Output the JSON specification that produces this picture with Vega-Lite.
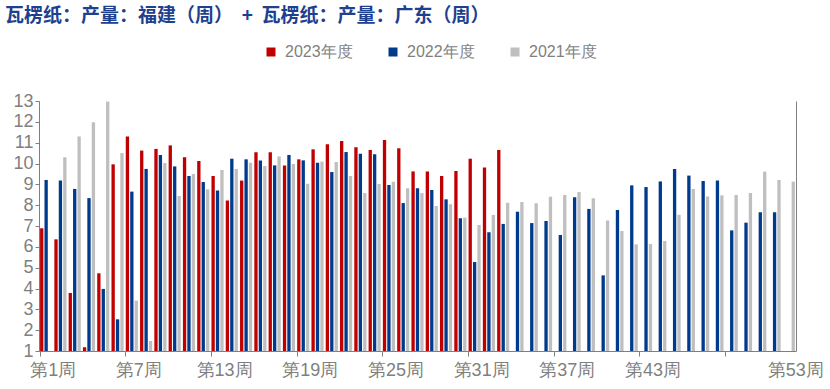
{
  "$schema": "https://vega.github.io/schema/vega-lite/v6.json",
  "width": 757,
  "height": 250,
  "autosize": "none",
  "padding": {"left": 39, "top": 101, "right": 34, "bottom": 38},
  "background": "white",
  "title": {
    "text": "瓦楞纸：产量：福建（周）\u00a0\u00a0+\u00a0\u00a0瓦楞纸：产量：广东（周）",
    "anchor": "start",
    "frame": "group",
    "dx": -34,
    "offset": 18,
    "font": "Noto Sans CJK SC",
    "fontSize": 19,
    "fontWeight": "bold",
    "color": "#1f3f8f"
  },
  "config": {"view": {"stroke": null}},
  "data": {"values": [
    {"w":1,"s":"2023年度","v":6.89},{"w":2,"s":"2023年度","v":6.36},{"w":3,"s":"2023年度","v":3.78},{"w":4,"s":"2023年度","v":1.18},{"w":5,"s":"2023年度","v":4.73},{"w":6,"s":"2023年度","v":9.96},{"w":7,"s":"2023年度","v":11.3},{"w":8,"s":"2023年度","v":10.62},{"w":9,"s":"2023年度","v":10.7},{"w":10,"s":"2023年度","v":10.87},{"w":11,"s":"2023年度","v":10.3},{"w":12,"s":"2023年度","v":10.12},{"w":13,"s":"2023年度","v":9.4},{"w":14,"s":"2023年度","v":8.23},{"w":15,"s":"2023年度","v":9.18},{"w":16,"s":"2023年度","v":10.54},{"w":17,"s":"2023年度","v":10.54},{"w":18,"s":"2023年度","v":9.91},{"w":19,"s":"2023年度","v":10.2},{"w":20,"s":"2023年度","v":10.68},{"w":21,"s":"2023年度","v":10.92},{"w":22,"s":"2023年度","v":11.08},{"w":23,"s":"2023年度","v":10.78},{"w":24,"s":"2023年度","v":10.65},{"w":25,"s":"2023年度","v":11.13},{"w":26,"s":"2023年度","v":10.73},{"w":27,"s":"2023年度","v":9.62},{"w":28,"s":"2023年度","v":9.62},{"w":29,"s":"2023年度","v":9.4},{"w":30,"s":"2023年度","v":9.64},{"w":31,"s":"2023年度","v":10.23},{"w":32,"s":"2023年度","v":9.81},{"w":33,"s":"2023年度","v":10.65},
    {"w":1,"s":"2022年度","v":9.21},{"w":2,"s":"2022年度","v":9.18},{"w":3,"s":"2022年度","v":8.78},{"w":4,"s":"2022年度","v":8.34},{"w":5,"s":"2022年度","v":3.98},{"w":6,"s":"2022年度","v":2.52},{"w":7,"s":"2022年度","v":8.65},{"w":8,"s":"2022年度","v":9.74},{"w":9,"s":"2022年度","v":10.41},{"w":10,"s":"2022年度","v":9.86},{"w":11,"s":"2022年度","v":9.4},{"w":12,"s":"2022年度","v":9.11},{"w":13,"s":"2022年度","v":8.7},{"w":14,"s":"2022年度","v":10.23},{"w":15,"s":"2022年度","v":10.2},{"w":16,"s":"2022年度","v":10.15},{"w":17,"s":"2022年度","v":9.91},{"w":18,"s":"2022年度","v":10.41},{"w":19,"s":"2022年度","v":10.15},{"w":20,"s":"2022年度","v":10.04},{"w":21,"s":"2022年度","v":9.59},{"w":22,"s":"2022年度","v":10.55},{"w":23,"s":"2022年度","v":10.47},{"w":24,"s":"2022年度","v":10.44},{"w":25,"s":"2022年度","v":8.97},{"w":26,"s":"2022年度","v":8.1},{"w":27,"s":"2022年度","v":8.81},{"w":28,"s":"2022年度","v":8.73},{"w":29,"s":"2022年度","v":8.28},{"w":30,"s":"2022年度","v":7.37},{"w":31,"s":"2022年度","v":5.27},{"w":32,"s":"2022年度","v":6.7},{"w":33,"s":"2022年度","v":7.1},{"w":34,"s":"2022年度","v":7.69},{"w":35,"s":"2022年度","v":7.14},{"w":36,"s":"2022年度","v":7.24},{"w":37,"s":"2022年度","v":6.57},{"w":38,"s":"2022年度","v":8.38},{"w":39,"s":"2022年度","v":7.82},{"w":40,"s":"2022年度","v":4.63},{"w":41,"s":"2022年度","v":7.77},{"w":42,"s":"2022年度","v":8.95},{"w":43,"s":"2022年度","v":8.87},{"w":44,"s":"2022年度","v":9.14},{"w":45,"s":"2022年度","v":9.74},{"w":46,"s":"2022年度","v":9.42},{"w":47,"s":"2022年度","v":9.16},{"w":48,"s":"2022年度","v":9.19},{"w":49,"s":"2022年度","v":6.79},{"w":50,"s":"2022年度","v":7.16},{"w":51,"s":"2022年度","v":7.66},{"w":52,"s":"2022年度","v":7.66},
    {"w":2,"s":"2021年度","v":10.3},{"w":3,"s":"2021年度","v":11.3},{"w":4,"s":"2021年度","v":11.98},{"w":5,"s":"2021年度","v":12.97},{"w":6,"s":"2021年度","v":10.5},{"w":7,"s":"2021年度","v":3.42},{"w":8,"s":"2021年度","v":1.48},{"w":9,"s":"2021年度","v":10.02},{"w":10,"s":"2021年度","v":8.44},{"w":11,"s":"2021年度","v":9.5},{"w":12,"s":"2021年度","v":8.76},{"w":13,"s":"2021年度","v":9.69},{"w":14,"s":"2021年度","v":9.74},{"w":15,"s":"2021年度","v":10.04},{"w":16,"s":"2021年度","v":9.88},{"w":17,"s":"2021年度","v":10.34},{"w":18,"s":"2021年度","v":9.98},{"w":19,"s":"2021年度","v":9.03},{"w":20,"s":"2021年度","v":10.09},{"w":21,"s":"2021年度","v":10.07},{"w":22,"s":"2021年度","v":9.4},{"w":23,"s":"2021年度","v":8.58},{"w":24,"s":"2021年度","v":9.02},{"w":25,"s":"2021年度","v":9.13},{"w":26,"s":"2021年度","v":8.81},{"w":27,"s":"2021年度","v":8.58},{"w":28,"s":"2021年度","v":7.96},{"w":29,"s":"2021年度","v":8.04},{"w":30,"s":"2021年度","v":7.4},{"w":31,"s":"2021年度","v":7.05},{"w":32,"s":"2021年度","v":7.53},{"w":33,"s":"2021年度","v":8.12},{"w":34,"s":"2021年度","v":8.15},{"w":35,"s":"2021年度","v":8.09},{"w":36,"s":"2021年度","v":8.41},{"w":37,"s":"2021年度","v":8.49},{"w":38,"s":"2021年度","v":8.63},{"w":39,"s":"2021年度","v":8.33},{"w":40,"s":"2021年度","v":7.27},{"w":41,"s":"2021年度","v":6.76},{"w":42,"s":"2021年度","v":6.12},{"w":43,"s":"2021年度","v":6.14},{"w":44,"s":"2021年度","v":6.28},{"w":45,"s":"2021年度","v":7.54},{"w":46,"s":"2021年度","v":8.78},{"w":47,"s":"2021年度","v":8.42},{"w":48,"s":"2021年度","v":8.47},{"w":49,"s":"2021年度","v":8.49},{"w":50,"s":"2021年度","v":8.58},{"w":51,"s":"2021年度","v":9.61},{"w":52,"s":"2021年度","v":9.21},{"w":53,"s":"2021年度","v":9.13}
  ]},
  "layer": [
    {
      "mark": {"type": "bar"},
      "encoding": {
        "x": {
          "field": "w", "type": "ordinal",
          "scale": {"domain": [1,2,3,4,5,6,7,8,9,10,11,12,13,14,15,16,17,18,19,20,21,22,23,24,25,26,27,28,29,30,31,32,33,34,35,36,37,38,39,40,41,42,43,44,45,46,47,48,49,50,51,52,53], "paddingInner": 0.15, "paddingOuter": 0.075},
          "axis": {
            "title": null,
            "values": [1,7,13,19,25,31,37,43,49,53],
            "bandPosition": 0,
            "labelOffset": 7,
            "labelExpr": "datum.value == 49 ? '' : '第' + datum.value + '周'",
            "labelAngle": 0,
            "labelOverlap": false,
            "labelBound": false,
            "labelFont": "Liberation Sans",
            "labelFontSize": 18,
            "labelColor": "#7f7f7f",
            "labelPadding": 5,
            "tickSize": 5,
            "tickColor": "#7f7f7f",
            "tickOpacity": {"condition": {"test": "datum.value == 53", "value": 0}, "value": 1},
            "domainColor": "#7f7f7f",
            "grid": false
          }
        },
        "xOffset": {"field": "s", "type": "nominal", "sort": ["2023年度","2022年度","2021年度"], "scale": {"domain": ["2023年度","2022年度","2021年度"], "paddingInner": 0.25, "paddingOuter": 0}},
        "y": {
          "field": "v", "type": "quantitative",
          "scale": {"domain": [1, 13], "nice": false, "zero": false},
          "axis": {
            "title": null,
            "values": [1,2,3,4,5,6,7,8,9,10,11,12,13],
            "labelFont": "Liberation Sans",
            "labelFontSize": 18,
            "labelColor": "#7f7f7f",
            "labelPadding": 2,
            "tickSize": 4,
            "tickColor": "#7f7f7f",
            "domainColor": "#7f7f7f",
            "grid": false
          }
        },
        "y2": {"datum": 1},
        "color": {
          "field": "s", "type": "nominal",
          "scale": {"domain": ["2023年度","2022年度","2021年度"], "range": ["#c00000","#003a8c","#bfbfbf"]},
          "legend": {
            "title": null,
            "orient": "none",
            "direction": "horizontal",
            "legendX": 224,
            "legendY": -57,
            "symbolType": "square",
            "symbolSize": 81,
            "symbolStrokeWidth": 0,
            "labelFont": "Liberation Sans",
            "labelFontSize": 16,
            "labelColor": "#7f7f7f",
            "labelOffset": 6,
            "columnPadding": 32
          }
        }
      }
    },
    {
      "mark": {"type": "rule", "opacity": 0},
      "encoding": {
        "y": {
          "field": "v", "type": "quantitative",
          "axis": {"orient": "right", "title": null, "labels": false, "ticks": false, "grid": false, "domainColor": "#7f7f7f"}
        }
      }
    }
  ],
  "resolve": {"axis": {"y": "independent"}}
}
